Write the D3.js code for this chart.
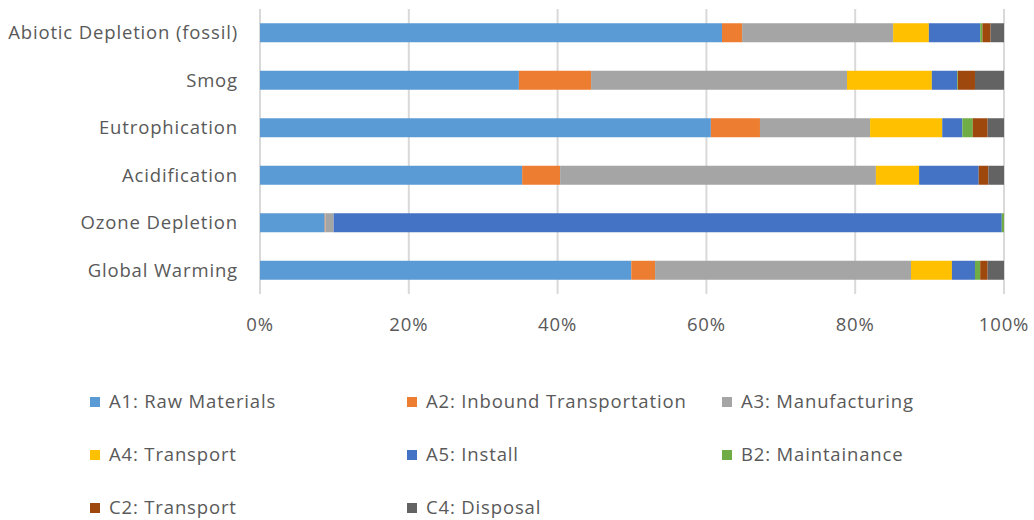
<!DOCTYPE html>
<html>
<head>
<meta charset="utf-8">
<script src="https://cdn.jsdelivr.net/npm/d3@7"></script>
<style>
  body { margin: 0; background: #fff; }
  text { font-family: "Open Sans", "Liberation Sans", sans-serif; fill: #595959; font-size: 18.5px; letter-spacing: 0.85px; }
</style>
</head>
<body>
<div id="chart"></div>
<script>
// categories, top to bottom
const categories = ["Abiotic Depletion (fossil)", "Smog", "Eutrophication", "Acidification", "Ozone Depletion", "Global Warming"];
const stages = ["A1: Raw Materials", "A2: Inbound Transportation", "A3: Manufacturing", "A4: Transport", "A5: Install", "B2: Maintainance", "C2: Transport", "C4: Disposal"];
const colors = ["#5B9BD5", "#ED7D31", "#A5A5A5", "#FFC000", "#4472C4", "#70AD47", "#9E480E", "#636363"];

// share of each stage (%), one array per stage, in category order
const a1 = [62.1, 34.8, 60.6, 35.2, 8.7, 49.9];
const a2 = [2.7, 9.7, 6.6, 5.1, 0.1, 3.2];
const a3 = [20.3, 34.4, 14.8, 42.4, 1.1, 34.4];
const a4 = [4.8, 11.4, 9.7, 5.8, 0, 5.5];
const a5 = [6.9, 3.4, 2.7, 8.0, 89.8, 3.1];
const b2 = [0.3, 0.1, 1.4, 0, 0.3, 0.7];
const c2 = [1.1, 2.3, 2.0, 1.3, 0, 1.0];
const c4 = [1.8, 3.9, 2.2, 2.1, 0, 2.2];
const xTicks = [0, 0.2, 0.4, 0.6, 0.8, 1];

const series = [a1, a2, a3, a4, a5, b2, c2, c4];

const width = 1034, height = 520;
const margin = { top: 9, left: 260, right: 30 };
const plotH = 285;

const svg = d3.select("#chart").append("svg").attr("width", width).attr("height", height);

// build rows normalised to 100%
const rows = categories.map((c, i) => {
  const row = { cat: c };
  let total = 0;
  stages.forEach((s, k) => total += series[k][i]);
  stages.forEach((s, k) => row[s] = series[k][i] / total);
  return row;
});

const stacked = d3.stack().keys(stages)(rows);

const x = d3.scaleLinear().domain([0, 1]).range([margin.left, 1004]);
const y = d3.scaleBand().domain(categories).range([margin.top, margin.top + plotH]).paddingInner(0.6).paddingOuter(0.3);

// gridlines
svg.append("g").selectAll("line")
  .data(xTicks)
  .enter().append("line")
  .attr("x1", d => x(d)).attr("x2", d => x(d))
  .attr("y1", margin.top).attr("y2", margin.top + plotH)
  .attr("stroke", "#d9d9d9")
  .attr("stroke-width", 2);

// bars
svg.append("g").selectAll("g")
  .data(stacked)
  .enter().append("g")
  .attr("fill", (d, i) => colors[i])
  .selectAll("rect")
  .data(d => d)
  .enter().append("rect")
  .attr("x", d => x(d[0]))
  .attr("y", d => y(d.data.cat))
  .attr("width", d => Math.max(0, x(d[1]) - x(d[0])))
  .attr("height", y.bandwidth());

// category labels
svg.append("g").selectAll("text")
  .data(categories)
  .enter().append("text")
  .attr("x", 238)
  .attr("y", d => y(d) + y.bandwidth() / 2)
  .attr("dy", "0.35em")
  .attr("text-anchor", "end")
  .text(d => d);

// x tick labels
svg.append("g").selectAll("text")
  .data(xTicks)
  .enter().append("text")
  .attr("x", d => x(d))
  .attr("y", 325)
  .attr("dy", "0.35em")
  .attr("text-anchor", "middle")
  .text(d => d3.format(".0%")(d));

// legend
const legCols = [90, 407, 722];
const legRows = [402, 455, 508];
const legend = svg.append("g").selectAll("g")
  .data(stages)
  .enter().append("g")
  .attr("transform", (d, i) => `translate(${legCols[i % 3]},${legRows[Math.floor(i / 3)]})`);

legend.append("rect")
  .attr("x", 0).attr("y", -5)
  .attr("width", 10).attr("height", 10)
  .attr("fill", (d, i) => colors[i]);

legend.append("text")
  .attr("x", 19)
  .attr("y", 0)
  .attr("dy", "0.35em")
  .text(d => d);
</script>
</body>
</html>
